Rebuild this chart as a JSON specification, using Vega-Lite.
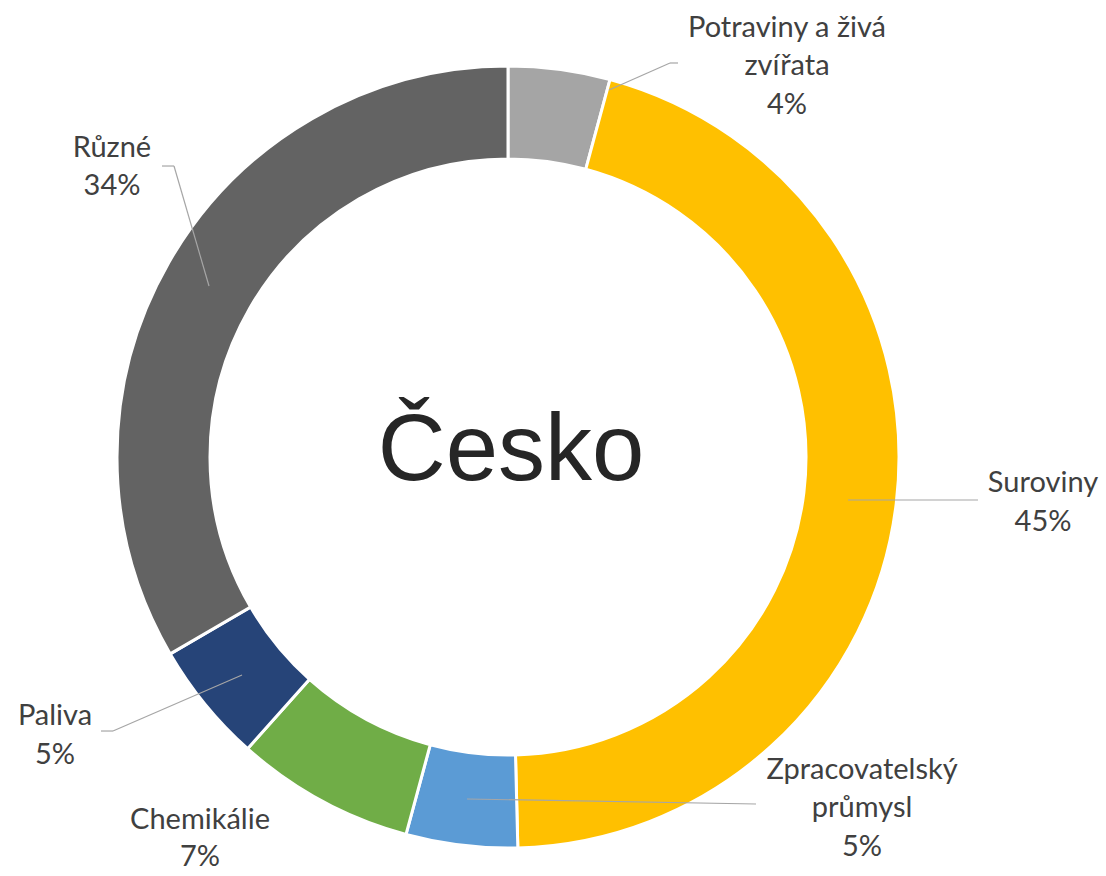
{
  "$schema": "https://vega.github.io/schema/vega-lite/v6.json",
  "width": 1106,
  "height": 876,
  "autosize": {"type": "none"},
  "padding": 0,
  "background": "white",
  "config": {"view": {"stroke": null}, "axis": {"disable": true}, "legend": {"disable": true}},
  "data": {
    "values": [
      {"kategorie": "Potraviny a živá zvířata", "podil": 4.2, "popisek": "Potraviny a živá\nzvířata\n4%", "poradi": 1},
      {"kategorie": "Suroviny", "podil": 45.4, "popisek": "Suroviny\n45%", "poradi": 2},
      {"kategorie": "Zpracovatelský průmysl", "podil": 4.6, "popisek": "Zpracovatelský\nprůmysl\n5%", "poradi": 3},
      {"kategorie": "Chemikálie", "podil": 7.4, "popisek": "Chemikálie\n7%", "poradi": 4},
      {"kategorie": "Paliva", "podil": 5.0, "popisek": "Paliva\n5%", "poradi": 5},
      {"kategorie": "Různé", "podil": 33.4, "popisek": "Různé\n34%", "poradi": 6}
    ]
  },
  "layer": [
    {
      "mark": {"type": "arc", "outerRadius": 391, "innerRadius": 298, "stroke": "white", "strokeWidth": 3},
      "encoding": {
        "x": {"datum": 0, "type": "quantitative", "scale": {"domain": [-1.29923, 1.52941], "nice": false, "zero": false}},
        "y": {"datum": 0, "type": "quantitative", "scale": {"domain": [-1.0716, 1.1688], "nice": false, "zero": false}},
        "theta": {"field": "podil", "type": "quantitative", "stack": true},
        "order": {"field": "poradi", "type": "quantitative"},
        "color": {
          "field": "kategorie",
          "type": "nominal",
          "scale": {
            "domain": ["Potraviny a živá zvířata", "Suroviny", "Zpracovatelský průmysl", "Chemikálie", "Paliva", "Různé"],
            "range": ["#A5A5A5", "#FFC000", "#5B9BD5", "#70AD47", "#264478", "#636363"]
          }
        }
      }
    },
    {
      "data": {"values": [{"nazev": "Česko"}]},
      "mark": {"type": "text", "font": "Liberation Sans", "fontSize": 94, "color": "#262626", "align": "center", "baseline": "alphabetic"},
      "encoding": {
        "x": {"datum": 0.0077, "type": "quantitative"},
        "y": {"datum": -0.0588, "type": "quantitative"},
        "text": {"field": "nazev"}
      }
    },
    {
      "transform": [{"filter": "datum.poradi === 1"}],
      "layer": [
        {"mark": {"type": "rule", "color": "#A6A6A6", "strokeWidth": 1.2},
         "encoding": {"x": {"datum": 0.2583, "type": "quantitative"}, "y": {"datum": 0.9386, "type": "quantitative"}, "x2": {"datum": 0.4143}, "y2": {"datum": 1.0077}}},
        {"mark": {"type": "rule", "color": "#A6A6A6", "strokeWidth": 1.2},
         "encoding": {"x": {"datum": 0.4143, "type": "quantitative"}, "y": {"datum": 1.0077, "type": "quantitative"}, "x2": {"datum": 0.4348}, "y2": {"datum": 1.0077}}},
        {"mark": {"type": "text", "font": "Lato", "fontSize": 29, "color": "#404040", "align": "center", "baseline": "middle", "lineBreak": "\n", "lineHeight": 38.5},
         "encoding": {"x": {"datum": 0.7136, "type": "quantitative"}, "y": {"datum": 1.0972, "type": "quantitative"}, "text": {"field": "popisek"}}}
      ]
    },
    {
      "transform": [{"filter": "datum.poradi === 2"}],
      "layer": [
        {"mark": {"type": "rule", "color": "#A6A6A6", "strokeWidth": 1.2},
         "encoding": {"x": {"datum": 0.8696, "type": "quantitative"}, "y": {"datum": -0.11, "type": "quantitative"}, "x2": {"datum": 1.202}, "y2": {"datum": -0.11}}},
        {"mark": {"type": "text", "font": "Lato", "fontSize": 29, "color": "#404040", "align": "center", "baseline": "middle", "lineBreak": "\n", "lineHeight": 38.5},
         "encoding": {"x": {"datum": 1.3683, "type": "quantitative"}, "y": {"datum": -0.0665, "type": "quantitative"}, "text": {"field": "popisek"}}}
      ]
    },
    {
      "transform": [{"filter": "datum.poradi === 3"}],
      "layer": [
        {"mark": {"type": "rule", "color": "#A6A6A6", "strokeWidth": 1.2},
         "encoding": {"x": {"datum": -0.1049, "type": "quantitative"}, "y": {"datum": -0.8747, "type": "quantitative"}, "x2": {"datum": 0.6343}, "y2": {"datum": -0.8875}}},
        {"mark": {"type": "text", "font": "Lato", "fontSize": 29, "color": "#404040", "align": "center", "baseline": "middle", "lineBreak": "\n", "lineHeight": 38.5},
         "encoding": {"x": {"datum": 0.9054, "type": "quantitative"}, "y": {"datum": -0.8005, "type": "quantitative"}, "text": {"field": "popisek"}}}
      ]
    },
    {
      "transform": [{"filter": "datum.poradi === 4"}],
      "layer": [
        {"mark": {"type": "text", "font": "Lato", "fontSize": 29, "color": "#404040", "align": "center", "baseline": "middle", "lineBreak": "\n", "lineHeight": 37},
         "encoding": {"x": {"datum": -0.7877, "type": "quantitative"}, "y": {"datum": -0.9285, "type": "quantitative"}, "text": {"field": "popisek"}}}
      ]
    },
    {
      "transform": [{"filter": "datum.poradi === 5"}],
      "layer": [
        {"mark": {"type": "rule", "color": "#A6A6A6", "strokeWidth": 1.2},
         "encoding": {"x": {"datum": -0.6803, "type": "quantitative"}, "y": {"datum": -0.5575, "type": "quantitative"}, "x2": {"datum": -1.0102}, "y2": {"datum": -0.7008}}},
        {"mark": {"type": "rule", "color": "#A6A6A6", "strokeWidth": 1.2},
         "encoding": {"x": {"datum": -1.0102, "type": "quantitative"}, "y": {"datum": -0.7008, "type": "quantitative"}, "x2": {"datum": -1.0409}, "y2": {"datum": -0.7008}}},
        {"mark": {"type": "text", "font": "Lato", "fontSize": 29, "color": "#404040", "align": "center", "baseline": "middle", "lineBreak": "\n", "lineHeight": 38.5},
         "encoding": {"x": {"datum": -1.1586, "type": "quantitative"}, "y": {"datum": -0.6624, "type": "quantitative"}, "text": {"field": "popisek"}}}
      ]
    },
    {
      "transform": [{"filter": "datum.poradi === 6"}],
      "layer": [
        {"mark": {"type": "rule", "color": "#A6A6A6", "strokeWidth": 1.2},
         "encoding": {"x": {"datum": -0.7647, "type": "quantitative"}, "y": {"datum": 0.4373, "type": "quantitative"}, "x2": {"datum": -0.8542}, "y2": {"datum": 0.7442}}},
        {"mark": {"type": "rule", "color": "#A6A6A6", "strokeWidth": 1.2},
         "encoding": {"x": {"datum": -0.8542, "type": "quantitative"}, "y": {"datum": 0.7442, "type": "quantitative"}, "x2": {"datum": -0.8849}, "y2": {"datum": 0.7442}}},
        {"mark": {"type": "text", "font": "Lato", "fontSize": 29, "color": "#404040", "align": "center", "baseline": "middle", "lineBreak": "\n", "lineHeight": 38.5},
         "encoding": {"x": {"datum": -1.0128, "type": "quantitative"}, "y": {"datum": 0.7903, "type": "quantitative"}, "text": {"field": "popisek"}}}
      ]
    }
  ]
}
